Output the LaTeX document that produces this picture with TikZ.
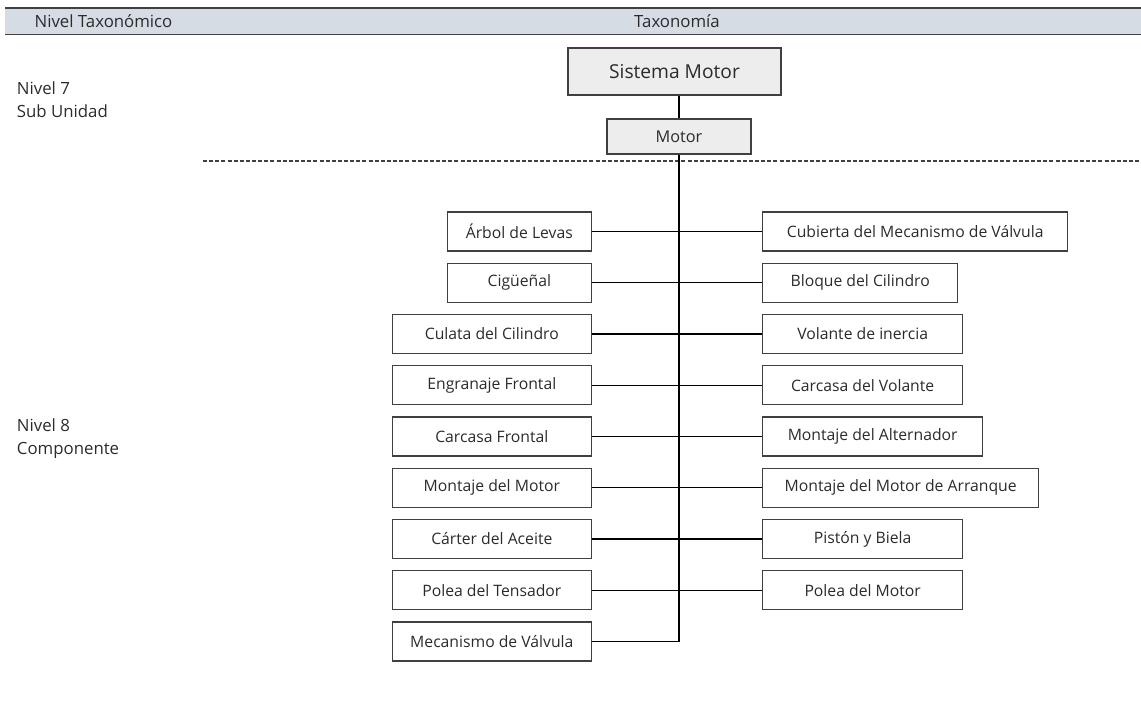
\documentclass[tikz,border=0pt]{standalone}
\usepackage{fontspec}
\setmainfont{Open Sans}
\usetikzlibrary{positioning}

\definecolor{hdrfill}{HTML}{D6DCE4}
\definecolor{boxline}{HTML}{404040}
\definecolor{txtgray}{HTML}{2B2B2B}
\definecolor{topfill}{HTML}{EDEDED}

\tikzset{every picture/.style={line width=0.75pt}}
\tikzset{
  compbox/.style={draw=boxline, line width=1pt, minimum height=29.25pt, inner sep=2pt,
    text=txtgray, font=\fontsize{11.8}{14}\selectfont},
  topbox/.style={draw=boxline, line width=1pt, fill=topfill, text=txtgray, inner sep=2pt},
  levellabel/.style={anchor=west, align=left, text=txtgray, font=\fontsize{12.6}{17.25}\selectfont},
  link/.style={draw=black, line width=1pt}
}

\begin{document}
\begin{tikzpicture}[x=0.75pt,y=0.75pt,yscale=-1,xscale=1]
\useasboundingbox (0,0) rectangle (1141,705);

% Header
\fill[hdrfill] (5,8) rectangle (1141,34.5);
\draw[boxline, line width=1.1pt] (5,8) -- (1141,8);
\draw[boxline, line width=1.1pt] (5,34.5) -- (1141,34.5);
\node[text=txtgray, font=\fontsize{12.6}{15}\selectfont] (hdrnivel) at (103.5,21.5) {Nivel Taxonómico};
\node[text=txtgray, font=\fontsize{12.6}{15}\selectfont] (hdrtaxo) at (677,21.5) {Taxonomía};

% Level labels
\node[levellabel] (nivel7) at (12,99.5) {Nivel 7\\Sub Unidad};
\node[levellabel] (nivel8) at (12,438.5) {Nivel 8\\Componente};

% Level separator
\draw[boxline, line width=0.9pt, dash pattern=on 3pt off 1.6pt] (203,161) -- (1141,161);

% Text Node
\node[topbox, minimum width=159.75pt, minimum height=35.25pt,
  font=\fontsize{14.4}{17}\selectfont] (sistema) at (674.5,71.5) {Sistema Motor};
% Text Node
\node[topbox, minimum width=108pt, minimum height=26.25pt,
  font=\fontsize{12.2}{15}\selectfont] (motor) at (679,136.5) {Motor};

% Left column
\node[compbox, anchor=east, minimum width=108pt] (arbol) at (592,231.5) {Árbol de Levas};
\node[compbox, anchor=east, minimum width=108pt] (ciguenal) at (592,282.75) {Cigüeñal};
\node[compbox, anchor=east, minimum width=149.25pt] (culata) at (592,334) {Culata del Cilindro};
\node[compbox, anchor=east, minimum width=149.25pt] (engranaje) at (592,385.25) {Engranaje Frontal};
\node[compbox, anchor=east, minimum width=149.25pt] (carcasaF) at (592,436.5) {Carcasa Frontal};
\node[compbox, anchor=east, minimum width=149.25pt] (montajeM) at (592,487.75) {Montaje del Motor};
\node[compbox, anchor=east, minimum width=149.25pt] (carter) at (592,539) {Cárter del Aceite};
\node[compbox, anchor=east, minimum width=149.25pt] (poleaT) at (592,590.25) {Polea del Tensador};
\node[compbox, anchor=east, minimum width=149.25pt] (mecanismo) at (592,641.5) {Mecanismo de Válvula};

% Right column
\node[compbox, anchor=west, minimum width=228.75pt] (cubierta) at (762,231.5) {Cubierta del Mecanismo de Válvula};
\node[compbox, anchor=west, minimum width=146.25pt] (bloque) at (762,282.75) {Bloque del Cilindro};
\node[compbox, anchor=west, minimum width=150pt] (volante) at (762,334) {Volante de inercia};
\node[compbox, anchor=west, minimum width=150pt] (carcasaV) at (762,385.25) {Carcasa del Volante};
\node[compbox, anchor=west, minimum width=165pt] (alternador) at (762,436.5) {Montaje del Alternador};
\node[compbox, anchor=west, minimum width=207pt] (arranque) at (762,487.75) {Montaje del Motor de Arranque};
\node[compbox, anchor=west, minimum width=150pt] (piston) at (762,539) {Pistón y Biela};
\node[compbox, anchor=west, minimum width=150pt] (poleaM) at (762,590.25) {Polea del Motor};

% Connection
\draw[link] (sistema.south -| motor.north) -- (motor.north);
% Connection
\draw[link] (motor.south) |- (mecanismo.east);
% Connection
\draw[link] (arbol.east) -- (cubierta.west);
\draw[link] (ciguenal.east) -- (bloque.west);
\draw[link] (culata.east) -- (volante.west);
\draw[link] (engranaje.east) -- (carcasaV.west);
\draw[link] (carcasaF.east) -- (alternador.west);
\draw[link] (montajeM.east) -- (arranque.west);
\draw[link] (carter.east) -- (piston.west);
\draw[link] (poleaT.east) -- (poleaM.west);

\end{tikzpicture}
\end{document}
